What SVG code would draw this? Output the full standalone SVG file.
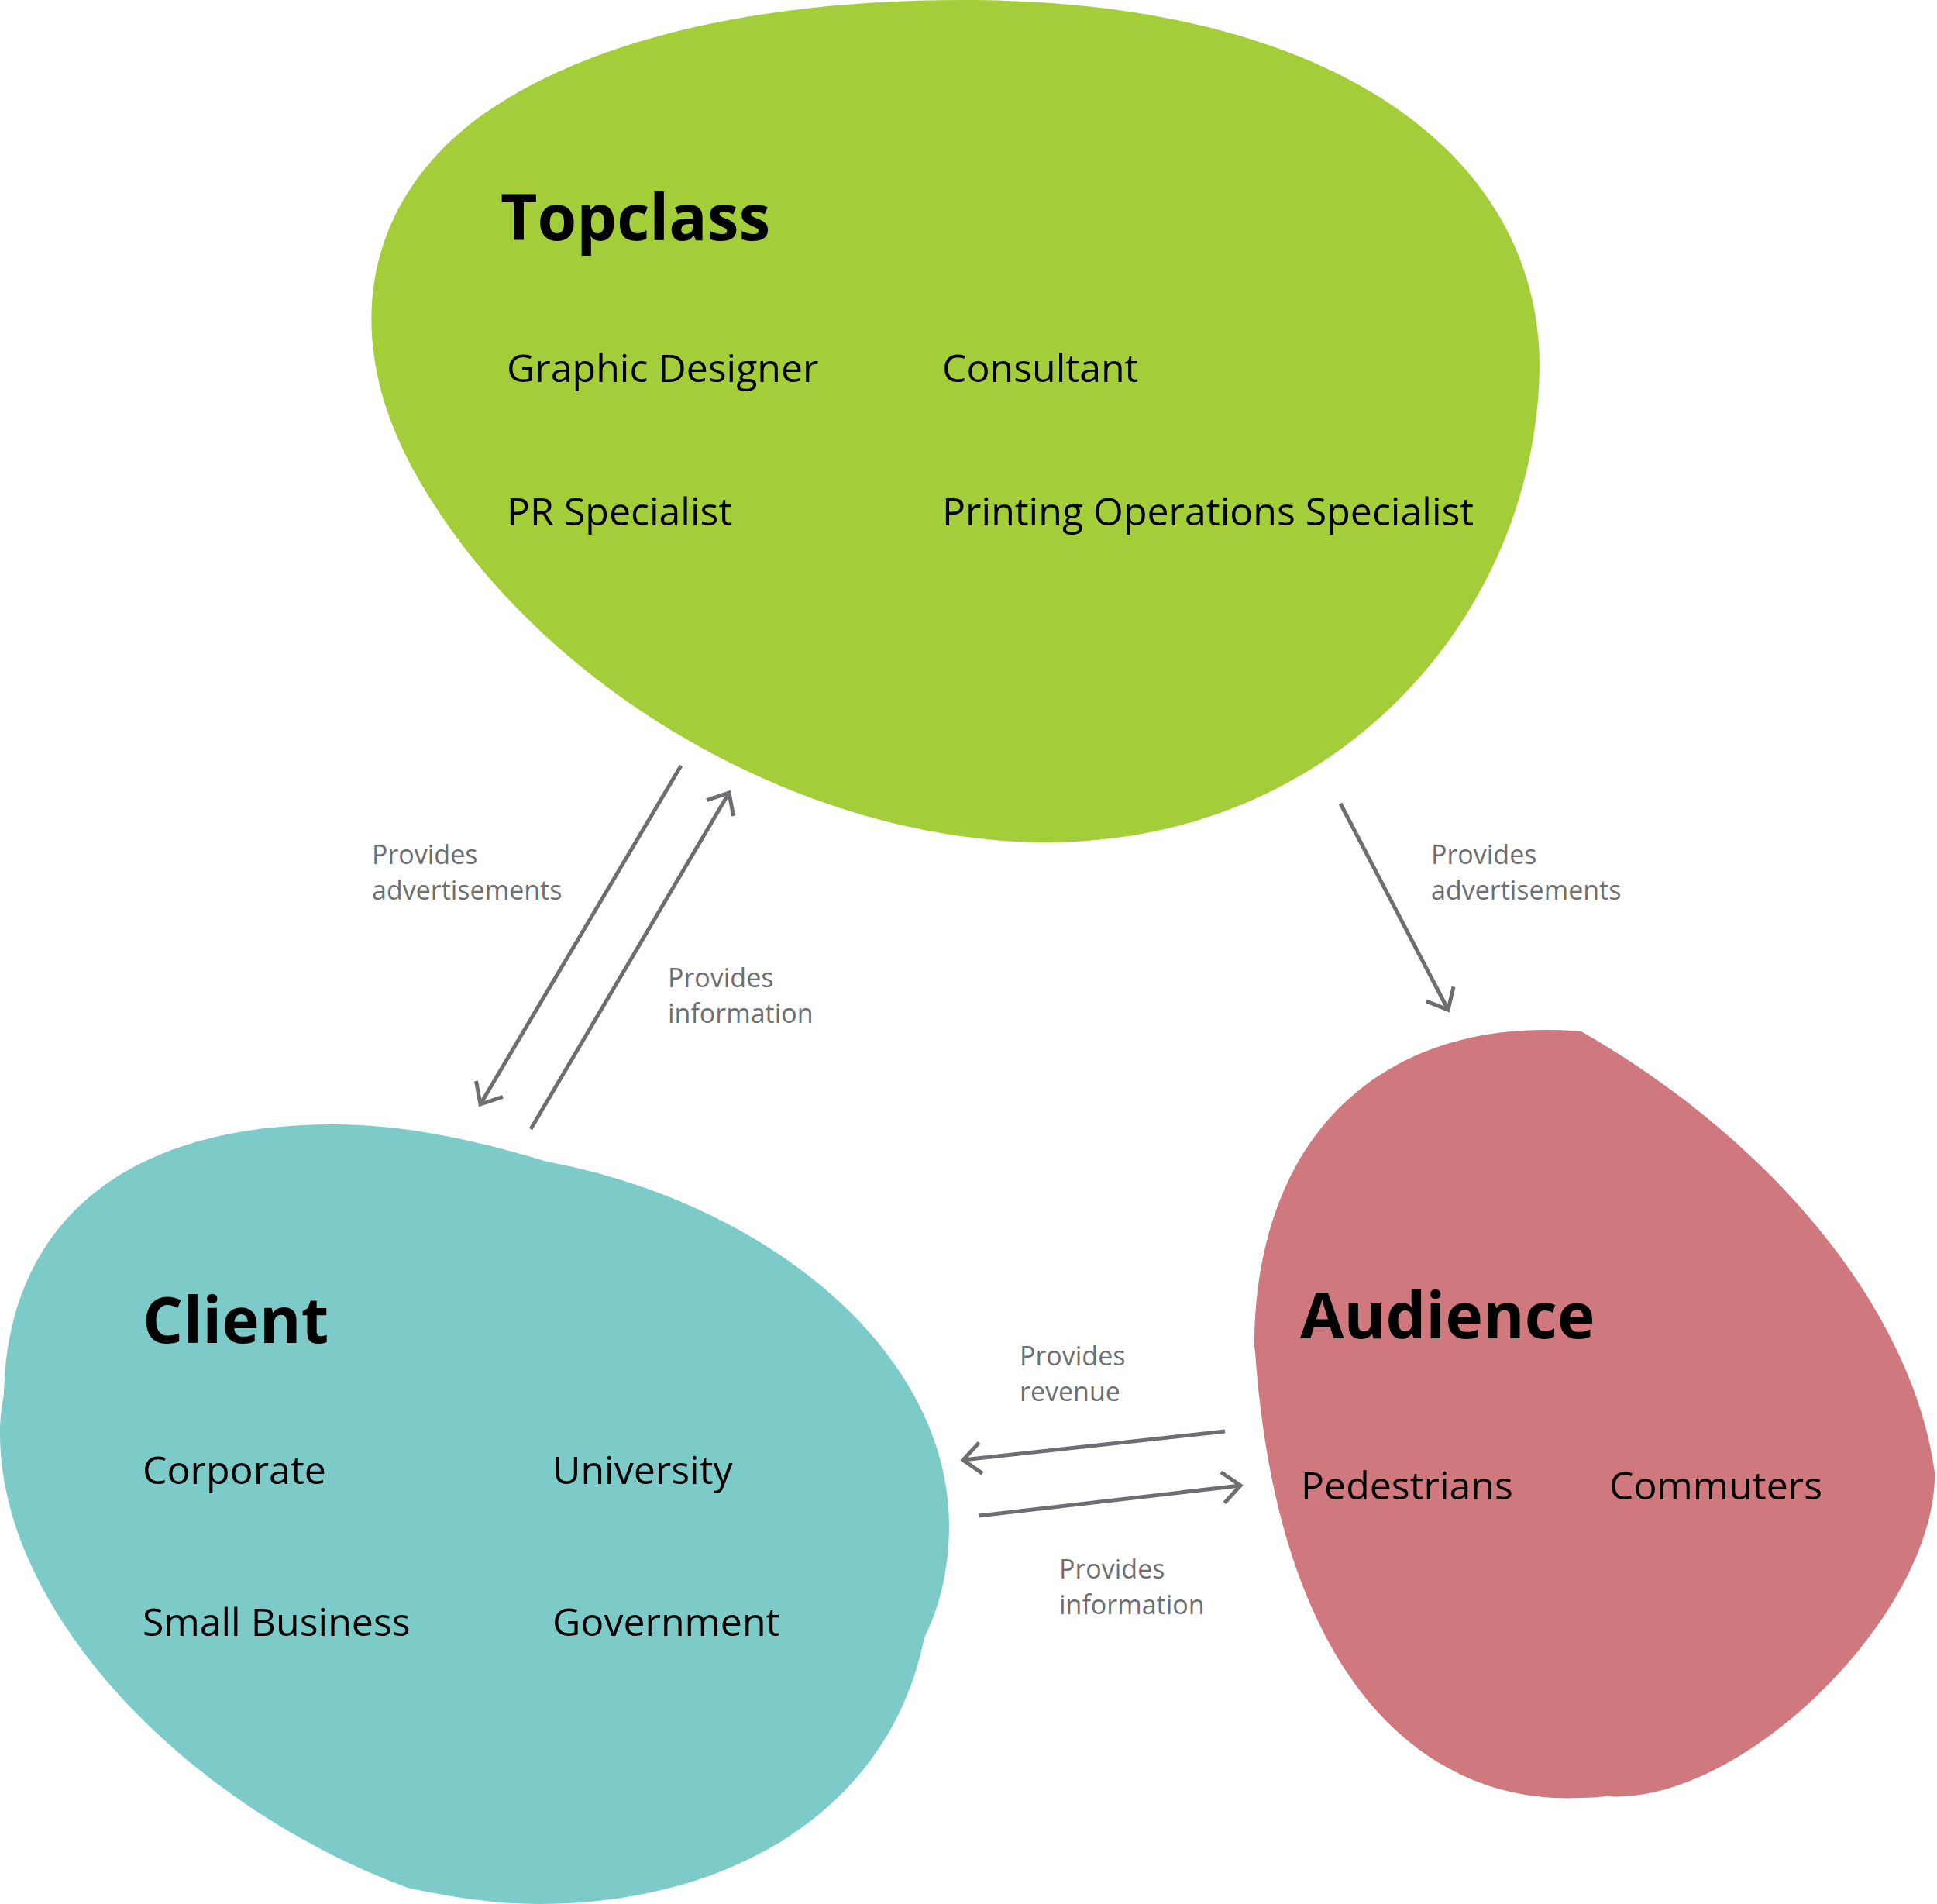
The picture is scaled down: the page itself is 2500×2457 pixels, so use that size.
<svg xmlns="http://www.w3.org/2000/svg" width="2500" height="2457" viewBox="0 0 2500 2457">
<style>
.title{font-family:"Open Sans","Noto Sans","Liberation Sans",sans-serif;font-weight:700;font-size:82px;fill:#000}
.item{font-family:"Open Sans","Noto Sans","Liberation Sans",sans-serif;font-size:50px;fill:#000}
.lbl{font-family:"Open Sans","Noto Sans","Liberation Sans",sans-serif;font-size:34px;fill:#6d6e71}
.conn{fill:none;stroke:#6d6e71;stroke-width:5;marker-end:url(#arr)}
</style>
<defs>
<marker id="arr" markerUnits="userSpaceOnUse" markerWidth="60" markerHeight="60" viewBox="-30 -30 60 60" refX="0" refY="0" orient="auto" overflow="visible">
<path d="M -23,-20 L 0,0 L -23,20" fill="none" stroke="#6d6e71" stroke-width="5"/>
</marker>
</defs>
<rect width="2500" height="2457" fill="#fff"/>
<g id="topclass">
<path d="M 1244,0 C 1720,0 1990,200 1987,478 C 1980,800 1720,1087 1352,1087 C 1030,1087 680,880 530,600 C 440,430 470,260 620,150 C 760,50 980,0 1244,0 Z" fill="#a4ce39"/>
<text class="title" x="646" y="310">Topclass</text>
<text class="item" x="654" y="493">Graphic Designer</text>
<text class="item" x="1216" y="493">Consultant</text>
<text class="item" x="654" y="678">PR Specialist</text>
<text class="item" x="1216" y="678">Printing Operations Specialist</text>
</g>
<g id="client">
<path d="M 706,1499 C 1000,1555 1225,1750 1225,1969 C 1225,2030 1210,2080 1193,2113 C 1150,2330 950,2457 694,2457 C 640,2457 580,2448 526,2436 C 240,2330 0,2080 0,1850 C 0,1830 2,1815 5,1800 C 10,1570 170,1451 430,1451 C 520,1451 610,1470 706,1499 Z" fill="#7ccbc8"/>
<text class="title" x="184" y="1733">Client</text>
<text class="item" x="184" y="1915">Corporate</text>
<text class="item" x="713" y="1915">University</text>
<text class="item" x="184" y="2111">Small Business</text>
<text class="item" x="713" y="2111">Government</text>
</g>
<g id="audience">
<path d="M 2041,1331 C 2300,1480 2470,1700 2497,1900 C 2500,2080 2250,2330 2073,2318 C 2063,2319 2052,2320 2041,2320 C 1840,2330 1650,2170 1620,1745 C 1619,1737 1618,1732 1619,1725 C 1625,1450 1800,1310 2041,1331 Z" fill="#cf787d"/>
<text class="title" x="1678" y="1727">Audience</text>
<text class="item" x="1679" y="1935">Pedestrians</text>
<text class="item" x="2077" y="1935">Commuters</text>
</g>
<g id="connectors">
<path class="conn" d="M 879,988 L 620,1425"/>
<path class="conn" d="M 685,1457 L 941,1023"/>
<path class="conn" d="M 1730,1037 L 1869,1303"/>
<path class="conn" d="M 1581,1847 L 1243,1884"/>
<path class="conn" d="M 1263,1956 L 1601,1917"/>
<text class="lbl" x="480" y="1115">Provides</text>
<text class="lbl" x="480" y="1161">advertisements</text>
<text class="lbl" x="862" y="1274">Provides</text>
<text class="lbl" x="862" y="1320">information</text>
<text class="lbl" x="1847" y="1115">Provides</text>
<text class="lbl" x="1847" y="1161">advertisements</text>
<text class="lbl" x="1316" y="1762">Provides</text>
<text class="lbl" x="1316" y="1808">revenue</text>
<text class="lbl" x="1367" y="2037">Provides</text>
<text class="lbl" x="1367" y="2083">information</text>
</g>
</svg>
